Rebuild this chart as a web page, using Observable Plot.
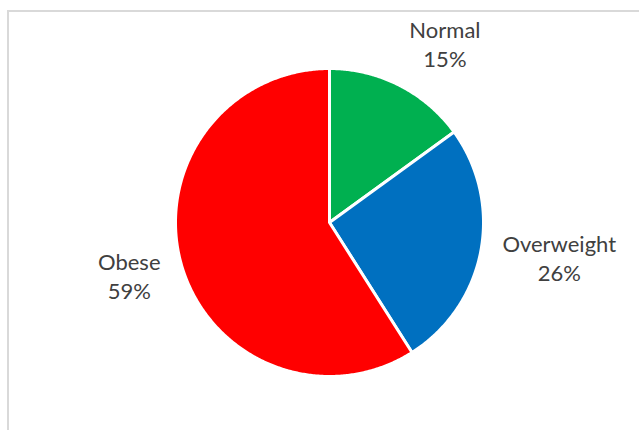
<!DOCTYPE html>
<html>
<head>
<meta charset="utf-8">
<script src="https://cdn.jsdelivr.net/npm/d3@7"></script>
<script src="https://cdn.jsdelivr.net/npm/@observablehq/plot@0.6"></script>
<style>
  html, body { margin: 0; padding: 0; background: #fff; overflow: hidden; }
  #wrap { position: relative; width: 639px; height: 430px; }
  #border { position: absolute; left: 7px; top: 10px; width: 700px; height: 500px;
            border-left: 2px solid #d9d9d9; border-top: 2px solid #d9d9d9; pointer-events: none; }
  #chart { position: absolute; left: 0; top: 0; }
</style>
</head>
<body>
<div id="wrap"><div id="chart"></div><div id="border"></div></div>
<script>
const categories = ["Normal", "Overweight", "Obese"];
const values = [15, 26, 59];
const percentLabels = ["15%", "26%", "59%"];
const colors = ["#00b050", "#0070c0", "#ff0000"];

const W = 639, H = 430;
const CX = 329, CY = 222, R = 154;
const FONT = 22;
const LINE = 29;

// pie layout (clockwise from 12 o'clock, in given order)
const arcs = d3.pie().sort(null).value(d => d)(values);

const slicePts = [];
arcs.forEach((a, i) => {
  slicePts.push({cat: categories[i], x: 0, y: 0});
  const steps = Math.max(2, Math.ceil((a.endAngle - a.startAngle) / (Math.PI / 360)));
  for (let k = 0; k <= steps; k++) {
    const t = a.startAngle + (a.endAngle - a.startAngle) * k / steps;
    slicePts.push({cat: categories[i], x: R * Math.sin(t), y: R * Math.cos(t)});
  }
});

// label placement: box edge/corner touches a point beyond the rim on the mid-angle ray
const ctx = document.createElement("canvas").getContext("2d");
ctx.font = `${FONT}px Lato`;
const labels = arcs.map((a, i) => {
  const m = (a.startAngle + a.endAngle) / 2;
  const s = Math.sin(m), c = Math.cos(m);
  const gap = R + 22;
  const w = Math.max(ctx.measureText(categories[i]).width, ctx.measureText(percentLabels[i]).width);
  const h = LINE + FONT * 0.72;
  const ax = Math.max(-1, Math.min(1, s * 2.2));
  const ay = Math.max(-1, Math.min(1, c));
  return {
    name: categories[i], pct: percentLabels[i],
    x: gap * s + ax * w / 2,
    y: gap * c + ay * h / 2
  };
});

const plot = Plot.plot({
  width: W, height: H,
  margin: 0,
  style: {background: "transparent", fontFamily: "Lato, sans-serif"},
  x: {domain: [-CX, W - CX], axis: null},
  y: {domain: [-(H - CY), CY], axis: null},
  color: {domain: categories, range: colors},
  marks: [
    Plot.line(slicePts, {x: "x", y: "y", z: "cat", fill: "cat", stroke: "white", strokeWidth: 3, curve: "linear-closed", strokeLinejoin: "round"}),
    Plot.text(labels, {x: "x", y: "y", text: "name", dy: -LINE / 2, fontSize: FONT, fill: "#404040", textAnchor: "middle"}),
    Plot.text(labels, {x: "x", y: "y", text: "pct", dy: LINE / 2, fontSize: FONT, fill: "#404040", textAnchor: "middle"})
  ]
});
document.getElementById("chart").appendChild(plot);
</script>
</body>
</html>
